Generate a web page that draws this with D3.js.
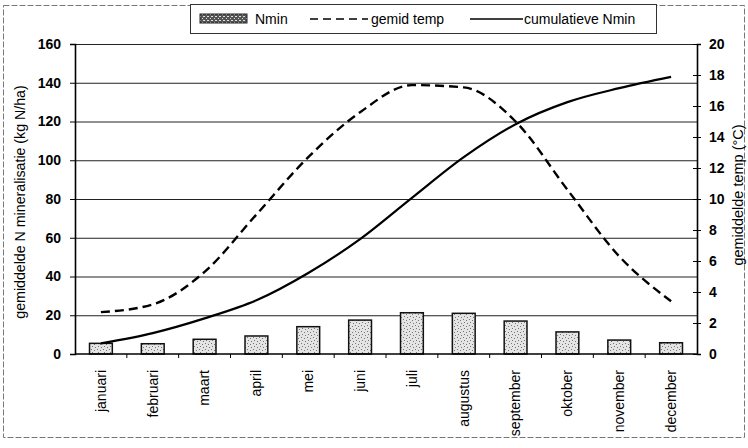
<!DOCTYPE html>
<html>
<head>
<meta charset="utf-8">
<script src="https://cdn.jsdelivr.net/npm/d3@7"></script>
<style>
  html, body { margin: 0; padding: 0; background: #fff; }
  svg { display: block; font-family: "Liberation Sans", Arial, sans-serif; }
</style>
</head>
<body>
<svg id="chart" width="748" height="448"></svg>
<script>
// Monthly N mineralisation, mean temperature and cumulative mineralisation
const months = ["januari", "februari", "maart", "april", "mei", "juni",
                "juli", "augustus", "september", "oktober", "november", "december"];
const nmin = [5.5, 5.3, 7.6, 9.3, 14.1, 17.5, 21.3, 21.0, 17.0, 11.4, 7.2, 5.8];
const gemidTemp = [2.7, 3.2, 5.3, 9.0, 12.7, 15.6, 17.35, 17.2, 15.0, 10.6, 6.3, 3.4];
const cumulatieveNmin = [5.5, 10.8, 18.4, 27.7, 41.8, 59.3, 80.6, 101.6, 118.6, 130.0, 137.2, 143.0];
const leftTicks = [0, 20, 40, 60, 80, 100, 120, 140, 160];
const rightTicks = [0, 2, 4, 6, 8, 10, 12, 14, 16, 18, 20];

const svg = d3.select("#chart");
const plot = { left: 75, right: 697, top: 44, bottom: 354 };

const x = d3.scaleBand().domain(months).range([plot.left, plot.right]).paddingInner(0.56).paddingOuter(0.28);
const xOuter = d3.scaleBand().domain(months).range([plot.left, plot.right]);
const yL = d3.scaleLinear().domain([0, 160]).range([plot.bottom, plot.top]);
const yR = d3.scaleLinear().domain([0, 20]).range([plot.bottom, plot.top]);

// outer frame of the chart
svg.append("rect")
  .attr("x", 3.5).attr("y", 5.5).attr("width", 741).attr("height", 432)
  .attr("fill", "none").attr("stroke", "#777").attr("stroke-width", 1)
  .attr("stroke-dasharray", "6,2");

// stipple patterns for the bars
const defs = svg.append("defs");
const bar = defs.append("pattern").attr("id", "stipple")
  .attr("width", 6).attr("height", 6).attr("patternUnits", "userSpaceOnUse");
bar.append("rect").attr("width", 6).attr("height", 6).attr("fill", "#e4e4e4");
[[1, 1], [4, 2], [2, 4], [5, 5]].forEach(([a, b]) =>
  bar.append("rect").attr("x", a).attr("y", b).attr("width", 1).attr("height", 1).attr("fill", "#777"));
const dark = defs.append("pattern").attr("id", "stippleDark")
  .attr("width", 4).attr("height", 4).attr("patternUnits", "userSpaceOnUse");
dark.append("rect").attr("width", 4).attr("height", 4).attr("fill", "#555");
[[0, 0], [2, 2], [3, 0]].forEach(([a, b]) =>
  dark.append("rect").attr("x", a).attr("y", b).attr("width", 1).attr("height", 1).attr("fill", "#ddd"));

// horizontal gridlines
svg.append("g").selectAll("line").data(leftTicks.filter(d => d > 0)).join("line")
  .attr("x1", plot.left).attr("x2", plot.right)
  .attr("y1", d => yL(d) + 0.5).attr("y2", d => yL(d) + 0.5)
  .attr("stroke", "#222").attr("stroke-width", 1);

// bars
svg.append("g").selectAll("rect").data(months).join("rect")
  .attr("x", d => x(d)).attr("width", x.bandwidth())
  .attr("y", (d, i) => yL(nmin[i])).attr("height", (d, i) => yL(0) - yL(nmin[i]))
  .attr("fill", "url(#stipple)").attr("stroke", "#111").attr("stroke-width", 1.5);

// temperature line (right axis)
const curve = d3.curveMonotoneX;
const xc = d => x(d) + x.bandwidth() / 2;
svg.append("path")
  .attr("d", d3.line().x((d, i) => xc(months[i])).y(d => yR(d)).curve(curve)(gemidTemp))
  .attr("fill", "none").attr("stroke", "#000").attr("stroke-width", 2.4)
  .attr("stroke-dasharray", "9,5");

// cumulative line (left axis)
svg.append("path")
  .attr("d", d3.line().x((d, i) => xc(months[i])).y(d => yL(d)).curve(curve)(cumulatieveNmin))
  .attr("fill", "none").attr("stroke", "#000").attr("stroke-width", 2.2);

// left axis
const axL = svg.append("g").attr("transform", `translate(${plot.left},0)`)
  .call(d3.axisLeft(yL).tickValues(leftTicks).tickSize(5).tickPadding(9));
// right axis
const axR = svg.append("g").attr("transform", `translate(${plot.right},0)`)
  .call(d3.axisRight(yR).tickValues(rightTicks).tickSize(4).tickPadding(8));
axR.selectAll(".tick line").attr("x1", -4);
// bottom axis with ticks between months
const axB = svg.append("g").attr("transform", `translate(0,${plot.bottom})`)
  .call(d3.axisBottom(xOuter).tickSize(0));
svg.append("g").selectAll("line").data(months.slice(1)).join("line")
  .attr("x1", d => xOuter(d)).attr("x2", d => xOuter(d))
  .attr("y1", plot.bottom).attr("y2", plot.bottom + 4)
  .attr("stroke", "#000");

[axL, axR, axB].forEach(g => {
  g.selectAll(".domain").attr("stroke", "#000").attr("stroke-width", 1.6);
  g.selectAll(".tick line").attr("stroke", "#000");
  g.selectAll(".tick text").attr("fill", "#000").attr("font-size", 14)
    .attr("font-family", "'Liberation Sans', Arial, sans-serif");
});
axB.selectAll(".tick text")
  .attr("transform", "rotate(-90)").attr("text-anchor", "end")
  .attr("x", -16).attr("y", 0).attr("dy", "0.35em");
axB.select(".domain").attr("d", `M${plot.left},0H${plot.right}`);
axL.selectAll(".tick text").attr("font-weight", "bold");
axR.selectAll(".tick text").attr("font-weight", "bold");

// axis titles
svg.append("text")
  .attr("transform", "translate(25,202) rotate(-90)")
  .attr("text-anchor", "middle").attr("font-size", 14.2)
  .text("gemiddelde N mineralisatie (kg N/ha)");
svg.append("text")
  .attr("transform", "translate(743,195) rotate(-90)")
  .attr("text-anchor", "middle").attr("font-size", 14.5)
  .text("gemiddelde temp (°C)");

// legend
const lg = svg.append("g");
lg.append("rect").attr("x", 190.5).attr("y", 4.5).attr("width", 466).attr("height", 29)
  .attr("fill", "#fff").attr("stroke", "#333").attr("stroke-width", 1);
lg.append("rect").attr("x", 200).attr("y", 14).attr("width", 47).attr("height", 9)
  .attr("fill", "url(#stippleDark)").attr("stroke", "#222");
lg.append("text").attr("x", 255).attr("y", 23.5).attr("font-size", 14).text("Nmin");
lg.append("line").attr("x1", 310).attr("x2", 368).attr("y1", 19).attr("y2", 19)
  .attr("stroke", "#000").attr("stroke-width", 1.6).attr("stroke-dasharray", "8,5");
lg.append("text").attr("x", 371).attr("y", 23.5).attr("font-size", 14).text("gemid temp");
lg.append("line").attr("x1", 470).attr("x2", 523).attr("y1", 19).attr("y2", 19)
  .attr("stroke", "#000").attr("stroke-width", 1.6);
lg.append("text").attr("x", 524).attr("y", 23.5).attr("font-size", 14).text("cumulatieve Nmin");
</script>
</body>
</html>
